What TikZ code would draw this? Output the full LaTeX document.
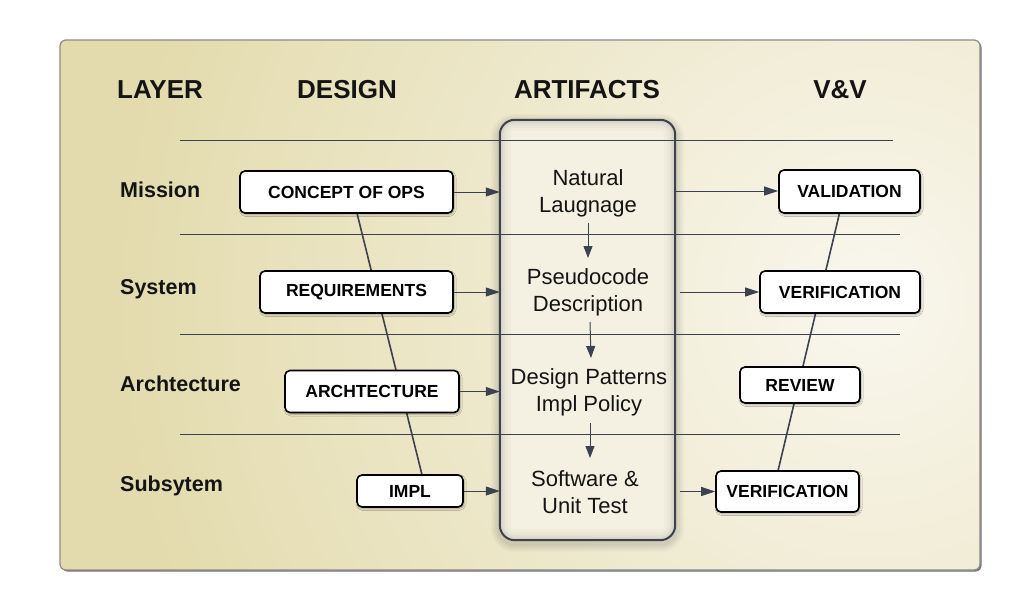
\documentclass[tikz,border=0pt]{standalone}
\usepackage{fontspec}
\setmainfont{Liberation Sans}
\usetikzlibrary{arrows.meta,shadows,shadows.blur}
\definecolor{bgtan}{HTML}{E3DBAD}
\definecolor{bglight}{HTML}{F9F7EE}
\definecolor{ln}{HTML}{3C4250}
\definecolor{artfill}{HTML}{F4F1E3}
\begin{document}
\begin{tikzpicture}[x=1pt,y=-1pt,
  hdr/.style={font=\fontsize{26}{30}\selectfont\bfseries, text=black!92, inner sep=0pt},
  lyr/.style={font=\fontsize{21.5}{25}\selectfont\bfseries, text=black!92, anchor=west, inner sep=0pt},
  dbox/.style={draw=black, line width=1.6pt, rounded corners=5pt, fill=white, minimum height=42pt, inner sep=0pt,
    font=\fontsize{17.5}{20}\selectfont\bfseries,
    blur shadow={shadow xshift=1pt, shadow yshift=-1.5pt, shadow blur radius=2pt, shadow opacity=35}},
  arttxt/.style={align=center, font=\fontsize{22}{27}\selectfont, text=black!92, inner sep=0pt},
  conn/.style={draw=ln, line width=1pt, -{Triangle[length=14pt,width=9pt]}},
  down/.style={draw=ln, line width=1pt, -{Triangle[length=12pt,width=9pt]}},
  rule/.style={draw=ln, line width=0.9pt},
  diag/.style={draw=ln, line width=1.6pt}
]
\useasboundingbox (0,0) rectangle (1020,610);
\fill[white] (0,0) rectangle (1020,610);
% panel
\fill[black!55, rounded corners=6pt] (61.5,41.5) rectangle (981.5,571.5);
\begin{scope}
  \clip[rounded corners=6pt] (60,40) rectangle (980,570);
  \fill[bgtan] (60,40) rectangle (980,570);
  \shade[inner color=bglight, outer color=bgtan] (870,300) circle (760);
\end{scope}
\draw[black!45, line width=1.2pt, rounded corners=6pt] (60,40) rectangle (980,570);

% artifacts column
\node[minimum width=175pt, minimum height=420pt, inner sep=0pt] (art) at (587.5,330) {};
% soft outer shadow
\foreach \d/\o in {9/0.025,7/0.03,5/0.035,3/0.04}
  \fill[black, opacity=\o, rounded corners=15pt+\d pt]
    ([xshift=-\d pt, yshift=\d pt-3pt]art.north west) rectangle ([xshift=\d pt, yshift=-\d pt-3pt]art.south east);
\fill[artfill, rounded corners=15pt] (art.north west) rectangle (art.south east);
\begin{scope}
  \clip[rounded corners=15pt] (art.north west) rectangle (art.south east);
  \foreach \w/\o in {22/0.02,16/0.02,11/0.025,7/0.03,4/0.03}
    \draw[line width=\w pt, black, opacity=\o, rounded corners=15pt] (art.north west) rectangle (art.south east);
\end{scope}

% rules
\draw[rule] (180,140) -- (893,140);
\draw[rule] (180,234) -- (900,234);
\draw[rule] (180,334) -- (900,334);
\draw[rule] (180,434) -- (900,434);

\draw[draw=ln, line width=2pt, rounded corners=15pt] (art.north west) rectangle (art.south east);

% headers
\node[hdr] (hl) at (160,90) {LAYER};
\node[hdr] (hd) at (347,90) {DESIGN};
\node[hdr] (ha) at (587,90) {ARTIFACTS};
\node[hdr] (hv) at (840,90) {V\&V};

% layer labels
\node[lyr] (l1) at (120,190) {Mission};
\node[lyr] (l2) at (120,289) {System};
\node[lyr] (l3) at (120,384) {Archtecture};
\node[lyr] (l4) at (120,486) {Subsytem};

% design boxes (coordinates only first, for the diagonal lines)
\path (346.5,192) node[minimum width=213pt, minimum height=42pt, inner sep=0pt] (copc) {}
      (410,491) node[minimum width=106pt, minimum height=32pt, inner sep=0pt] (implc) {}
      (849.5,191.5) node[minimum width=141pt, minimum height=43pt, inner sep=0pt] (valc) {}
      (787.5,491.5) node[minimum width=143pt, minimum height=41pt, inner sep=0pt] (ver2c) {};
\draw[diag] ([xshift=10.5pt]copc.south) -- ([xshift=12pt]implc.north);
\draw[diag] ([xshift=-10pt]valc.south) -- ([xshift=-9.5pt]ver2c.north);

\node[dbox, minimum width=213pt] (cop) at (346.5,192) {CONCEPT OF OPS};
\node[dbox, minimum width=193pt] (req) at (356.5,292) {REQUIREMENTS};
\node[dbox, minimum width=174pt] (arch) at (372,391.5) {ARCHTECTURE};
\node[dbox, minimum width=106pt, minimum height=32pt] (impl) at (410,491) {IMPL};

% V&V boxes
\node[dbox, minimum width=141pt, minimum height=43pt] (val) at (849.5,191.5) {VALIDATION};
\node[dbox, minimum width=160pt] (ver) at (840,292) {VERIFICATION};
\node[dbox, minimum width=120pt, minimum height=36pt] (rev) at (800,385) {REVIEW};
\node[dbox, minimum width=143pt, minimum height=41pt] (ver2) at (787.5,491.5) {VERIFICATION};

% artifact texts
\node[arttxt] (nl) at (588,193) {Natural\\Laugnage};
\node[arttxt] (pd) at (588,292) {Pseudocode\\Description};
\node[arttxt] (dp) at (589,392) {Design Patterns\\Impl Policy};
\node[arttxt] (sw) at (585,492) {Software \&\\Unit Test};

% down arrows
\draw[down] ([yshift=-30pt]nl.center) -- ([yshift=34pt]pd.center);
\draw[down] ([xshift=2pt,yshift=-30pt]pd.center) -- ([xshift=2pt,yshift=34pt]dp.center);
\draw[down] ([xshift=1pt,yshift=-31pt]dp.center) -- ([xshift=5pt,yshift=34pt]sw.center);

% left arrows
\draw[conn] (cop.east) -- (cop.east -| art.west);
\draw[conn] (req.east) -- (req.east -| art.west);
\draw[conn] (arch.east) -- (arch.east -| art.west);
\draw[conn] (impl.east) -- (impl.east -| art.west);

% right arrows
\draw[conn] ([yshift=0.5pt]val.west -| art.east) -- ([yshift=0.5pt]val.west);
\draw[conn] ([xshift=5pt]ver.west -| art.east) -- (ver.west);
\draw[conn] ([xshift=5pt]ver2.west -| art.east) -- (ver2.west);
\end{tikzpicture}
\end{document}
